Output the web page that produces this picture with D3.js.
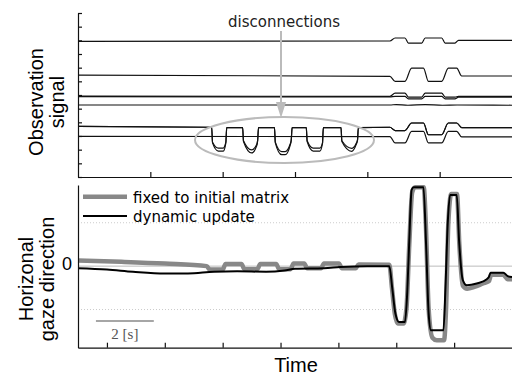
<!DOCTYPE html>
<html>
<head>
<meta charset="utf-8">
<script src="https://cdn.jsdelivr.net/npm/d3@7"></script>
<style>
  body { margin: 0; background: #fff; }
  svg { display: block; font-family: "Liberation Sans", Arial, sans-serif; }
</style>
</head>
<body>
<svg id="chart" width="512" height="376"></svg>
<script>
// time axis ticks (seconds)
const topTimeTicks = [2.5, 5, 7.5, 10, 12.5]
const bottomTimeTicks = [1, 3, 5, 7, 9, 11, 13]
const signalTicks = [0, 1, 2, 3, 4, 5, 6, 7, 8, 9, 10, 11, 12]
const gazeGrid = [-1, 0, 1]
const gazeLabels = ["0"]

// observation signals: [time, value]
const obs1 = [[0, 9.93], [10.78, 9.95], [10.96, 10.17], [11.3, 10.17], [11.42, 9.8], [11.88, 9.8], [12.0, 10.17], [12.57, 10.17], [12.69, 9.8], [13.03, 9.8], [13.15, 10.0], [15, 10.0]]
const obs2 = [[0, 7.46], [10.78, 7.37], [10.96, 7.0], [11.3, 7.0], [11.53, 7.97], [11.94, 7.97], [12.11, 7.0], [12.57, 7.0], [12.8, 7.97], [13.09, 7.97], [13.26, 7.39], [15, 7.39]]
const obs3a = [[0, 5.92], [10.78, 5.9], [10.96, 6.14], [11.3, 6.14], [11.42, 5.85], [11.88, 5.85], [12.0, 6.14], [12.57, 6.14], [12.69, 5.85], [13.03, 5.85], [13.15, 5.9], [15, 5.9]]
const obs3b = [[0, 5.88], [10.78, 5.86], [10.96, 5.9], [11.3, 5.9], [11.42, 5.72], [11.88, 5.72], [12.0, 5.9], [12.57, 5.9], [12.69, 5.72], [13.03, 5.72], [13.15, 5.84], [15, 5.84]]
const obs4 = [[0, 5.27], [10.78, 5.27], [11.0, 5.3], [11.4, 5.25], [12.0, 5.3], [12.6, 5.25], [13.1, 5.27], [15, 5.25]]
const obs5a = [[0, 3.70], [4.62, 3.64],
  [4.65, 2.55], [4.85, 2.12], [5.02, 2.12], [5.11, 2.55], [5.14, 3.62], [5.69, 3.62],
  [5.72, 2.65], [6.0, 1.98], [6.18, 2.4], [6.21, 2.7], [6.24, 3.62], [6.79, 3.62],
  [6.82, 2.55], [7.04, 1.86], [7.16, 1.86], [7.33, 2.4], [7.37, 2.7], [7.4, 3.62], [7.89, 3.62],
  [7.92, 2.65], [8.13, 2.12], [8.36, 2.12], [8.45, 2.5], [8.48, 3.62], [9.09, 3.62],
  [9.12, 2.65], [9.46, 2.1], [9.6, 2.4], [9.66, 2.7], [9.69, 3.62], [10.78, 3.64],
  [10.96, 3.4], [11.3, 3.4], [11.53, 3.95], [11.94, 3.95], [12.11, 3.09], [12.57, 3.09], [12.8, 3.95], [13.09, 3.95], [13.26, 3.62], [15, 3.62]]
const obs5b = [[0, 3.70], [4.62, 3.64],
  [4.65, 2.5], [4.85, 1.9], [5.02, 1.9], [5.11, 2.5], [5.14, 3.62], [5.69, 3.62],
  [5.72, 2.6], [6.0, 1.76], [6.18, 2.3], [6.21, 2.7], [6.24, 3.62], [6.79, 3.62],
  [6.82, 2.5], [7.04, 1.63], [7.16, 1.63], [7.33, 2.3], [7.37, 2.7], [7.4, 3.62], [7.89, 3.62],
  [7.92, 2.6], [8.13, 1.9], [8.36, 1.9], [8.45, 2.45], [8.48, 3.62], [9.09, 3.62],
  [9.12, 2.6], [9.46, 1.88], [9.6, 2.3], [9.66, 2.7], [9.69, 3.62], [10.78, 3.64],
  [10.96, 3.4], [11.3, 3.4], [11.53, 3.95], [11.94, 3.95], [12.11, 3.09], [12.57, 3.09], [12.8, 3.95], [13.09, 3.95], [13.26, 3.62], [15, 3.62]]
const obs6 = [[0, 2.97], [10.78, 2.96], [10.96, 2.49], [11.3, 2.49], [11.53, 3.34], [11.94, 3.34], [12.11, 2.49], [12.57, 2.49], [12.8, 3.34], [13.09, 3.34], [13.26, 2.93], [15, 2.93]]
const obsSignals = [obs1, obs2, obs3a, obs3b, obs4, obs5a, obs5b, obs6]

// horizontal gaze direction: [time, value]
const gazeFixed = [[0, 0.13], [1.5, 0.10], [3, 0.06], [4.45, 0.0], [4.55, -0.08], [5.0, -0.08], [5.1, 0.05], [5.65, 0.05],
  [5.75, -0.07], [6.2, -0.07], [6.3, 0.05], [6.85, 0.05], [6.95, -0.07], [7.35, -0.07], [7.45, 0.06], [7.82, 0.06],
  [7.92, -0.05], [8.4, -0.05], [8.5, 0.06], [9.02, 0.06], [9.12, -0.05], [9.6, -0.05], [9.7, 0.04], [10.76, 0.03],
  [10.85, -0.5], [10.95, -1.1], [11.05, -1.32], [11.25, -1.32], [11.35, -1.0], [11.45, 0.5], [11.55, 1.7], [11.65, 1.82],
  [11.95, 1.82], [12.02, 1.0], [12.12, -1.0], [12.25, -1.65], [12.4, -1.71], [12.65, -1.71], [12.72, -1.0], [12.8, 1.0],
  [12.9, 1.66], [13.1, 1.66], [13.18, 0.5], [13.3, -0.45], [13.45, -0.52], [13.7, -0.48], [14.0, -0.40], [14.2, -0.35],
  [14.28, -0.2], [14.7, -0.2], [14.85, -0.3], [15, -0.3]]
const gazeDynamic = [[0, -0.05], [1.0, -0.08], [1.9, -0.13], [3.0, -0.17], [3.8, -0.17], [4.7, -0.13], [5.5, -0.12],
  [6.5, -0.13], [7.14, -0.1], [7.5, -0.06], [8.5, -0.05], [9.06, -0.02], [10.0, 0.0], [10.76, 0.0],
  [10.86, -0.5], [10.97, -1.09], [11.1, -1.29], [11.3, -1.29], [11.38, -0.6], [11.45, 0.6], [11.53, 1.76], [11.6, 1.82],
  [11.94, 1.82], [12.03, 0.5], [12.12, -1.1], [12.2, -1.48], [12.63, -1.48], [12.7, -0.5], [12.78, 1.0], [12.86, 1.64],
  [13.09, 1.64], [13.17, 0.6], [13.3, -0.32], [13.44, -0.44], [13.78, -0.40], [14.13, -0.30], [14.2, -0.25],
  [14.26, -0.15], [14.7, -0.15], [14.85, -0.23], [15, -0.25]]
const legendNames = ["fixed to initial matrix", "dynamic update"]

var svg = d3.select("#chart")

var x = d3.scaleLinear().domain([0, 15]).range([78, 512])
var yTop = d3.scaleLinear().domain([0, 12]).range([177, 13])
var yBot = d3.scaleLinear().domain([-1.88, 1.87]).range([347.7, 185])

var lineTop = d3.line().x(d => x(d[0])).y(d => yTop(d[1])).curve(d3.curveMonotoneX)
var lineBot = d3.line().x(d => x(d[0])).y(d => yBot(d[1])).curve(d3.curveMonotoneX)

// ---- top panel
var topPanel = svg.append("g")

topPanel.selectAll(".obs")
  .data(obsSignals)
  .enter().append("path")
  .attr("class", "obs")
  .attr("d", lineTop)
  .attr("fill", "none")
  .attr("stroke", "#111")
  .attr("stroke-width", 1.2)

topPanel.append("g")
  .attr("transform", "translate(78,0)")
  .call(d3.axisLeft(yTop).tickValues(signalTicks).tickSize(-4).tickSizeOuter(0).tickFormat(""))

topPanel.append("g")
  .attr("transform", "translate(0,177)")
  .call(d3.axisBottom(x).tickValues(topTimeTicks).tickSize(-5).tickSizeOuter(0).tickFormat(""))

// disconnections annotation
topPanel.append("ellipse")
  .attr("cx", 284.5).attr("cy", 140).attr("rx", 89.5).attr("ry", 23)
  .attr("fill", "none").attr("stroke", "#bbb").attr("stroke-width", 2)

topPanel.append("line")
  .attr("x1", 281).attr("y1", 31).attr("x2", 281).attr("y2", 104)
  .attr("stroke", "#bbb").attr("stroke-width", 2)
topPanel.append("path")
  .attr("d", "M276,102L286,102L281,118Z")
  .attr("fill", "#bbb")

topPanel.append("text")
  .attr("x", 284).attr("y", 26.5)
  .attr("text-anchor", "middle")
  .style("font-family", "'DejaVu Sans', sans-serif")
  .style("font-size", "15px")
  .attr("fill", "#222")
  .text("disconnections")

// ---- bottom panel
var botPanel = svg.append("g")

botPanel.selectAll(".grid")
  .data(gazeGrid)
  .enter().append("line")
  .attr("class", "grid")
  .attr("x1", 78).attr("x2", 512)
  .attr("y1", d => yBot(d)).attr("y2", d => yBot(d))
  .attr("stroke", d => d === 0 ? "#bbb" : "#ccc")
  .attr("stroke-width", 1)
  .attr("stroke-dasharray", d => d === 0 ? null : "1,2")

botPanel.append("path")
  .datum(gazeFixed)
  .attr("d", lineBot)
  .attr("fill", "none")
  .attr("stroke", "#888")
  .attr("stroke-width", 4.5)
  .attr("stroke-linejoin", "round")

botPanel.append("path")
  .datum(gazeDynamic)
  .attr("d", lineBot)
  .attr("fill", "none")
  .attr("stroke", "#000")
  .attr("stroke-width", 2)

botPanel.append("g")
  .attr("transform", "translate(78,0)")
  .call(d3.axisLeft(yBot).tickValues([]).tickSizeOuter(0))

botPanel.append("g")
  .attr("transform", "translate(0," + yBot(-1.88) + ")")
  .call(d3.axisBottom(x).tickValues(bottomTimeTicks).tickSize(-5).tickSizeOuter(0).tickFormat(""))

botPanel.selectAll(".ylab")
  .data(gazeLabels)
  .enter().append("text")
  .attr("class", "ylab")
  .attr("x", 72).attr("y", d => yBot(+d) + 4)
  .attr("text-anchor", "end")
  .style("font-size", "18px")
  .text(d => d)

// legend
var legend = botPanel.append("g")
legend.append("line").attr("x1", 83).attr("x2", 127).attr("y1", 196.7).attr("y2", 196.7)
  .attr("stroke", "#888").attr("stroke-width", 4.5)
legend.append("line").attr("x1", 83).attr("x2", 127).attr("y1", 216).attr("y2", 216)
  .attr("stroke", "#000").attr("stroke-width", 2)
legend.selectAll("text")
  .data(legendNames)
  .enter().append("text")
  .attr("x", 133).attr("y", (d, i) => i === 0 ? 202.5 : 222)
  .style("font-family", "'DejaVu Sans', sans-serif")
  .style("font-size", "15px")
  .text(d => d)

// scale bar
botPanel.append("line").attr("x1", x(0.62)).attr("x2", x(2.62)).attr("y1", 321).attr("y2", 321)
  .attr("stroke", "#888").attr("stroke-width", 1.5)
botPanel.append("text")
  .attr("x", x(1.62)).attr("y", 339)
  .attr("text-anchor", "middle")
  .style("font-family", "'Liberation Serif', serif")
  .style("font-size", "15px")
  .attr("fill", "#555")
  .text("2 [s]")

// axis titles
svg.selectAll(".domain, .tick line").attr("stroke", "#111").attr("stroke-width", 1.2)

function vlabel(lines, cx, cy) {
  var t = svg.append("text")
    .attr("transform", "translate(" + cx + "," + cy + ") rotate(-90)")
    .attr("text-anchor", "middle")
    .style("font-size", "20px")
  lines.forEach(function (s, i) {
    t.append("tspan").attr("x", 0).attr("y", i * 21).text(s)
  })
}
vlabel(["Observation", "signal"], 43, 102)
vlabel(["Horizonal", "gaze direction"], 33, 279)

svg.append("text")
  .attr("x", 296).attr("y", 371.5)
  .attr("text-anchor", "middle")
  .style("font-size", "20px")
  .text("Time")
</script>
</body>
</html>
